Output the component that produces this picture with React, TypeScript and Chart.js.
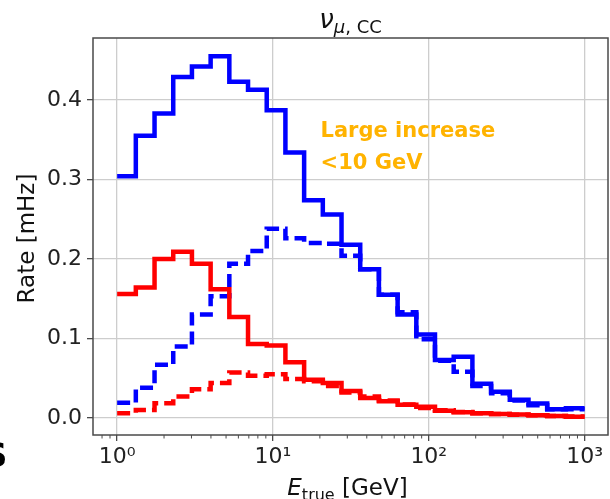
import { useEffect, useRef } from "react";
import { Chart, registerables } from "chart.js";

Chart.register(...registerables);

// Log-spaced energy bin edges in GeV (25 bins from 1 to 1000)
const binEdges = [
  1, 1.318, 1.738, 2.291, 3.02, 3.981, 5.248, 6.918, 9.12, 12.02, 15.85, 20.89, 27.54,
  36.31, 47.86, 63.1, 83.18, 109.6, 144.5, 190.5, 251.2, 331.1, 436.5, 575.4, 758.6, 1000,
];

// Rates per bin in mHz
const blueSolid = [
  0.304, 0.355, 0.383, 0.429, 0.442, 0.455, 0.423, 0.413, 0.387, 0.334, 0.274, 0.256, 0.218,
  0.187, 0.155, 0.13, 0.105, 0.073, 0.077, 0.043, 0.033, 0.023, 0.018, 0.011, 0.012,
];
const blueDashed = [
  0.019, 0.038, 0.067, 0.09, 0.13, 0.153, 0.194, 0.21, 0.238, 0.226, 0.22, 0.219, 0.204,
  0.187, 0.155, 0.133, 0.099, 0.072, 0.058, 0.04, 0.031, 0.022, 0.016, 0.011, 0.011,
];
const redSolid = [
  0.156, 0.164, 0.2, 0.209, 0.194, 0.162, 0.127, 0.093, 0.091, 0.07, 0.048, 0.044, 0.034,
  0.025, 0.021, 0.0165, 0.014, 0.009, 0.007, 0.0058, 0.005, 0.0042, 0.0035, 0.0025, 0.0015,
];
const redDashed = [
  0.006, 0.01, 0.0185, 0.027, 0.036, 0.044, 0.057, 0.053, 0.055, 0.049, 0.046, 0.04, 0.032,
  0.027, 0.022, 0.017, 0.0125, 0.0095, 0.0075, 0.006, 0.0048, 0.004, 0.0032, 0.0025, 0.0018,
];

const xTickValues = [1, 10, 100, 1000];
const xTickLabels = ["10⁰", "10¹", "10²", "10³"];
const xMinorTicks = [0.8, 0.9, 2, 3, 4, 5, 6, 7, 8, 9, 20, 30, 40, 50, 60, 70, 80, 90, 200, 300, 400, 500, 600, 700, 800, 900];
const yTickValues = [0, 0.1, 0.2, 0.3, 0.4];
const yTickLabels = ["0.0", "0.1", "0.2", "0.3", "0.4"];

const annotationLines = ["Large increase", "<10 GeV"];
const annotationX = 20.2;
const annotationY = [0.353, 0.313];

const FONT = "'DejaVu Sans', 'Liberation Sans', sans-serif";
const BLUE = "#0000ff";
const RED = "#ff0000";
const ORANGE = "#ffb300";
const GRID = "#cdcdcd";
const FRAME = "#4a4a4a";

function stairs(values: number[]) {
  const pts = values.map((v, i) => ({ x: binEdges[i], y: v }));
  pts.push({ x: binEdges[values.length], y: values[values.length - 1] });
  return pts;
}

type Run = { text: string; font: string; dy: number };

function drawRuns(ctx: CanvasRenderingContext2D, runs: Run[], cx: number, baseline: number) {
  let total = 0;
  for (const r of runs) {
    ctx.font = r.font;
    total += ctx.measureText(r.text).width;
  }
  let x = cx - total / 2;
  ctx.textAlign = "left";
  ctx.textBaseline = "alphabetic";
  for (const r of runs) {
    ctx.font = r.font;
    ctx.fillText(r.text, x, baseline + r.dy);
    x += ctx.measureText(r.text).width;
  }
}

const decorPlugin = {
  id: "decor",
  afterDatasetsDraw(chart: any) {
    const { ctx, chartArea, scales } = chart;
    const xs = scales.x;
    const ys = scales.y;
    ctx.save();

    // annotation text
    ctx.fillStyle = ORANGE;
    ctx.font = `bold 21px ${FONT}`;
    ctx.textAlign = "left";
    ctx.textBaseline = "alphabetic";
    annotationLines.forEach((line, i) => {
      ctx.fillText(line, xs.getPixelForValue(annotationX), ys.getPixelForValue(annotationY[i]));
    });

    // frame
    ctx.strokeStyle = FRAME;
    ctx.lineWidth = 1.5;
    ctx.strokeRect(chartArea.left, chartArea.top, chartArea.right - chartArea.left, chartArea.bottom - chartArea.top);

    // minor log ticks
    ctx.lineWidth = 1;
    ctx.beginPath();
    for (const v of xMinorTicks) {
      const px = xs.getPixelForValue(v);
      if (px < chartArea.left || px > chartArea.right) continue;
      ctx.moveTo(px, chartArea.bottom);
      ctx.lineTo(px, chartArea.bottom + 3.5);
    }
    ctx.stroke();

    // title
    ctx.fillStyle = "#111";
    const cx = (chartArea.left + chartArea.right) / 2;
    drawRuns(
      ctx,
      [
        { text: "ν", font: `italic 26px ${FONT}`, dy: 0 },
        { text: "μ", font: `italic 18px ${FONT}`, dy: 5 },
        { text: ", CC", font: `18px ${FONT}`, dy: 5 },
      ],
      cx,
      28
    );

    // x axis title
    drawRuns(
      ctx,
      [
        { text: "E", font: `italic 23px ${FONT}`, dy: 0 },
        { text: "true", font: `16px ${FONT}`, dy: 5 },
        { text: " [GeV]", font: `23px ${FONT}`, dy: 0 },
      ],
      cx - 3,
      495
    );

    // y axis title
    ctx.save();
    ctx.translate(34, (chartArea.top + chartArea.bottom) / 2 + 2);
    ctx.rotate(-Math.PI / 2);
    ctx.font = `23px ${FONT}`;
    ctx.textAlign = "center";
    ctx.textBaseline = "alphabetic";
    ctx.fillText("Rate [mHz]", 0, 0);
    ctx.restore();

    // neighbouring panel letter
    ctx.fillStyle = "#000";
    ctx.font = `bold 34px ${FONT}`;
    ctx.textAlign = "left";
    ctx.fillText("S", -17, 467);

    ctx.restore();
  },
};

export default function App() {
  const canvasRef = useRef<HTMLCanvasElement | null>(null);

  useEffect(() => {
    if (!canvasRef.current) return;
    const line = (data: number[], color: string, dashed: boolean) => ({
      data: stairs(data),
      borderColor: color,
      backgroundColor: color,
      borderWidth: 4.5,
      borderDash: dashed ? [13, 6] : [],
      borderCapStyle: "butt" as const,
      borderJoinStyle: "miter" as const,
      stepped: "before" as const,
      pointRadius: 0,
      fill: false,
    });

    const chart = new Chart(canvasRef.current, {
      type: "line",
      data: {
        datasets: [
          line(redDashed, RED, true),
          line(redSolid, RED, false),
          line(blueDashed, BLUE, true),
          line(blueSolid, BLUE, false),
        ],
      },
      options: {
        responsive: false,
        animation: false,
        layout: { padding: { top: 38, right: 2, left: 0, bottom: 0 } },
        plugins: { legend: { display: false }, tooltip: { enabled: false }, title: { display: false } },
        scales: {
          x: {
            type: "logarithmic",
            min: 0.708,
            max: 1413,
            afterBuildTicks: (s: any) => {
              s.ticks = xTickValues.map((v) => ({ value: v, major: true }));
            },
            afterFit: (s: any) => {
              s.height = 64;
            },
            ticks: {
              autoSkip: false,
              maxRotation: 0,
              padding: 3,
              color: "#222",
              font: { family: FONT, size: 22 },
              callback: (v: any) => {
                const i = xTickValues.indexOf(Number(v));
                return i >= 0 ? xTickLabels[i] : "";
              },
            },
            grid: { color: GRID, lineWidth: 1.3, tickLength: 6, tickColor: FRAME, tickWidth: 1.3 },
            border: { display: false },
          },
          y: {
            type: "linear",
            min: -0.0215,
            max: 0.478,
            afterBuildTicks: (s: any) => {
              s.ticks = yTickValues.map((v) => ({ value: v }));
            },
            afterFit: (s: any) => {
              s.width = 93;
            },
            ticks: {
              padding: 5,
              color: "#222",
              font: { family: FONT, size: 22 },
              callback: (v: any) => {
                const i = yTickValues.findIndex((t) => Math.abs(t - Number(v)) < 1e-9);
                return i >= 0 ? yTickLabels[i] : "";
              },
            },
            grid: { color: GRID, lineWidth: 1.3, tickLength: 6, tickColor: FRAME, tickWidth: 1.3 },
            border: { display: false },
          },
        },
      },
      plugins: [decorPlugin],
    });
    return () => chart.destroy();
  }, []);

  return (
    <div style={{ position: "fixed", left: 0, top: 0, width: 610, height: 499, background: "#fff" }}>
      <canvas ref={canvasRef} width={610} height={499} style={{ display: "block" }} />
    </div>
  );
}
